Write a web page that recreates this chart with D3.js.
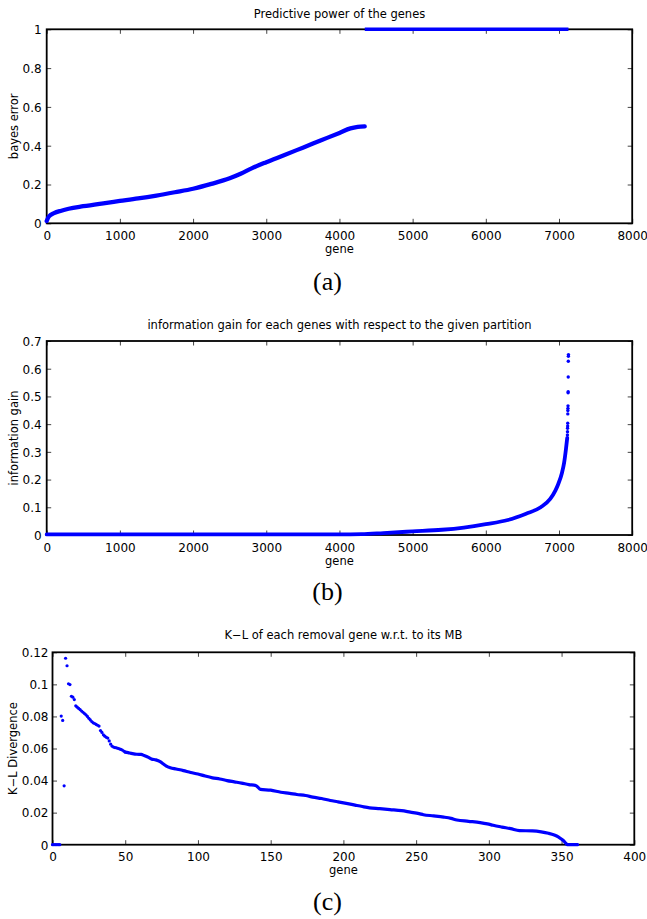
<!DOCTYPE html>
<html>
<head>
<meta charset="utf-8">
<script src="https://cdn.jsdelivr.net/npm/d3@7"></script>
<style>
  body { margin: 0; background: #fff; }
  text { font-family: "DejaVu Sans", sans-serif; fill: #000; }
  .caption { font-family: "Liberation Serif", "Times New Roman", serif; }
</style>
</head>
<body>
<svg id="fig" width="647" height="919"></svg>
<script>
// ---------- (a) Bayes error of each gene, sorted ----------
const bayesGenes  = [0, 30, 100, 200, 300, 500, 750, 1000, 1250, 1500, 1750, 2000, 2250, 2500, 2650, 2800, 3000, 3250, 3500, 3750, 4000, 4150, 4250, 4345];
const bayesErrors = [0.012, 0.035, 0.052, 0.065, 0.075, 0.088, 0.102, 0.115, 0.128, 0.143, 0.160, 0.178, 0.203, 0.232, 0.255, 0.283, 0.315, 0.352, 0.390, 0.428, 0.466, 0.489, 0.497, 0.500];
const uselessGenes  = [4346, 7129];
const uselessErrors = [1, 1];

// ---------- (b) information gain of each gene ----------
const gainGenes  = [0, 1000, 2000, 3000, 4000, 4300, 4600, 5000, 5400, 5700, 6000, 6300, 6550, 6750, 6880, 6950, 6990, 7040, 7070, 7095, 7112];
const gainValues = [0.002, 0.002, 0.002, 0.002, 0.002, 0.003, 0.007, 0.013, 0.019, 0.027, 0.039, 0.054, 0.077, 0.100, 0.130, 0.160, 0.184, 0.224, 0.261, 0.310, 0.350];
const gainTopGenes  = [7115, 7116, 7117, 7118, 7119, 7120, 7121, 7122, 7123, 7124, 7125, 7126, 7127, 7128, 7129];
const gainTopValues = [0.361, 0.373, 0.385, 0.393, 0.403, 0.437, 0.449, 0.457, 0.466, 0.513, 0.517, 0.570, 0.627, 0.645, 0.651];

// ---------- (c) K-L divergence of each removed gene w.r.t. its Markov blanket ----------
const klEarlyGenes  = d3.range(0, 51);
const klEarlyValues = [0, 0, 0, 0, 0, 0, 0.0802, 0.0775, 0.0367, 0.1163, 0.1116, 0.1004, 0.0999, 0.0926, 0.0920, 0.0905,
  0.0866, 0.0858, 0.0850, 0.0842, 0.0834, 0.0826, 0.0818, 0.0810, 0.0800, 0.0788, 0.0778, 0.0768, 0.0760, 0.0756,
  0.0750, 0.0745, 0.0740, 0.0712, 0.0700, 0.0685, 0.0677, 0.0670, 0.0665, 0.0647, 0.0627, 0.0614, 0.0609, 0.0606,
  0.0604, 0.0601, 0.0598, 0.0594, 0.0590, 0.0584, 0.0578];
const klGenes  = [50, 52, 55, 58, 61, 63, 66, 68, 71, 74, 76, 78, 81, 85, 90, 95, 100, 105, 110, 115, 120, 125, 130, 135, 140, 143,
  150, 157, 163, 168, 174, 179, 185, 191, 196, 202, 208, 213, 218, 225, 232, 240, 246, 252, 255, 262, 269, 274, 278, 286,
  294, 299, 303, 309, 315, 321, 330, 336, 341, 345, 348, 351, 353, 354, 361];
const klValues = [0.0578, 0.0574, 0.0568, 0.0564, 0.0563, 0.0556, 0.0545, 0.0535, 0.0529, 0.0518, 0.0505, 0.0492, 0.0480, 0.0472,
  0.0462, 0.0450, 0.0441, 0.0428, 0.0417, 0.0410, 0.0400, 0.0392, 0.0384, 0.0375, 0.0368, 0.0345, 0.0340, 0.0327, 0.0320,
  0.0313, 0.0307, 0.0297, 0.0288, 0.0276, 0.0268, 0.0258, 0.0247, 0.0238, 0.0230, 0.0225, 0.0219, 0.0212, 0.0203, 0.0194,
  0.0187, 0.0180, 0.0172, 0.0164, 0.0154, 0.0146, 0.0138, 0.0130, 0.0121, 0.0110, 0.0100, 0.0088, 0.0086, 0.0080, 0.0071,
  0.0060, 0.0047, 0.0028, 0.0008, 0, 0];

// ---------- tick labels ----------
const geneTicks7k  = [0, 1000, 2000, 3000, 4000, 5000, 6000, 7000, 8000];
const geneLabels7k = ["0", "1000", "2000", "3000", "4000", "5000", "6000", "7000", "8000"];
const errorTicks   = [0, 0.2, 0.4, 0.6, 0.8, 1];
const errorLabels  = ["0", "0.2", "0.4", "0.6", "0.8", "1"];
const gainTicks    = [0, 0.1, 0.2, 0.3, 0.4, 0.5, 0.6, 0.7];
const gainLabels   = ["0", "0.1", "0.2", "0.3", "0.4", "0.5", "0.6", "0.7"];
const geneTicks400  = [0, 50, 100, 150, 200, 250, 300, 350, 400];
const geneLabels400 = ["0", "50", "100", "150", "200", "250", "300", "350", "400"];
const klTicks  = [0, 0.02, 0.04, 0.06, 0.08, 0.1, 0.12];
const klLabels = ["0", "0.02", "0.04", "0.06", "0.08", "0.1", "0.12"];

const BLUE = "#0000ff";
const svg = d3.select("#fig");
svg.append("rect").attr("width", 647).attr("height", 919).attr("fill", "#fff");

function drawPanel(p) {
  const x = d3.scaleLinear().domain(p.xDomain).range([p.left, p.right]);
  const y = d3.scaleLinear().domain(p.yDomain).range([p.bottom, p.top]);
  const g = svg.append("g");
  const tickLen = 4.5;

  const styleAxis = sel => {
    sel.select(".domain").remove();
    sel.selectAll(".tick line").attr("stroke", "#444").attr("stroke-width", 1);
    sel.selectAll(".tick text").attr("font-size", 12).attr("fill", "#000")
      .attr("font-family", "DejaVu Sans, sans-serif");
  };

  g.append("g").attr("transform", `translate(0,${p.bottom})`)
    .call(d3.axisBottom(x).tickValues(p.xTicks).tickFormat((d, i) => p.xLabels[i])
      .tickSizeInner(-tickLen).tickSizeOuter(0).tickPadding(8))
    .call(styleAxis);
  g.append("g").attr("transform", `translate(0,${p.top})`)
    .call(d3.axisTop(x).tickValues(p.xTicks).tickFormat("").tickSizeInner(-tickLen).tickSizeOuter(0))
    .call(styleAxis);
  g.append("g").attr("transform", `translate(${p.left},0)`)
    .call(d3.axisLeft(y).tickValues(p.yTicks).tickFormat((d, i) => p.yLabels[i])
      .tickSizeInner(-tickLen).tickSizeOuter(0).tickPadding(p.yPad))
    .call(styleAxis)
    .selectAll(".tick text").attr("dy", "0.36em");
  g.append("g").attr("transform", `translate(${p.right},0)`)
    .call(d3.axisRight(y).tickValues(p.yTicks).tickFormat("").tickSizeInner(-tickLen).tickSizeOuter(0))
    .call(styleAxis);

  // box
  g.append("rect").attr("x", p.left).attr("y", p.top)
    .attr("width", p.right - p.left).attr("height", p.bottom - p.top)
    .attr("fill", "none").attr("stroke", "#000").attr("stroke-width", 1.8);

  // title and axis labels
  g.append("text").attr("x", (p.left + p.right) / 2).attr("y", p.titleY)
    .attr("text-anchor", "middle").attr("font-size", 11.5).text(p.title);
  g.append("text").attr("x", (p.left + p.right) / 2).attr("y", p.xLabelY)
    .attr("text-anchor", "middle").attr("font-size", 11.5).text("gene");
  g.append("text").attr("transform", `translate(${p.yLabelX},${(p.top + p.bottom) / 2}) rotate(-90)`)
    .attr("text-anchor", "middle").attr("font-size", 11.5).text(p.yLabel);
  g.append("text").attr("class", "caption").attr("x", 327.5).attr("y", p.captionY)
    .attr("text-anchor", "middle").attr("font-size", 26).text(p.caption);

  return { g, x, y };
}

const lineGen = (x, y) => d3.line().x(d => x(d[0])).y(d => y(d[1])).curve(d3.curveMonotoneX);

// ---------- panel (a) ----------
{
  const { g, x, y } = drawPanel({
    xDomain: [0, 8000], yDomain: [0, 1],
    left: 46.7, right: 632.2, top: 29.3, bottom: 223.3,
    xTicks: geneTicks7k, xLabels: geneLabels7k, yTicks: errorTicks, yLabels: errorLabels, yPad: 5,
    title: "Predictive power of the genes", titleY: 18, xLabelY: 253,
    yLabel: "bayes error", yLabelX: 17.5, caption: "(a)", captionY: 290
  });
  const line = lineGen(x, y);
  g.append("path").datum(d3.zip(bayesGenes, bayesErrors)).attr("d", line)
    .attr("fill", "none").attr("stroke", BLUE).attr("stroke-width", 4.3)
    .attr("stroke-linecap", "round").attr("stroke-linejoin", "round");
  g.append("path").datum(d3.zip(uselessGenes, uselessErrors)).attr("d", line)
    .attr("fill", "none").attr("stroke", BLUE).attr("stroke-width", 3.6);
}

// ---------- panel (b) ----------
{
  const { g, x, y } = drawPanel({
    xDomain: [0, 8000], yDomain: [0, 0.7],
    left: 46.7, right: 632.2, top: 341, bottom: 535,
    xTicks: geneTicks7k, xLabels: geneLabels7k, yTicks: gainTicks, yLabels: gainLabels, yPad: 5,
    title: "information gain for each genes with respect to the given partition", titleY: 329, xLabelY: 565,
    yLabel: "information gain", yLabelX: 17.5, caption: "(b)", captionY: 600
  });
  g.append("path").datum(d3.zip(gainGenes, gainValues)).attr("d", lineGen(x, y))
    .attr("fill", "none").attr("stroke", BLUE).attr("stroke-width", 3.8)
    .attr("stroke-linecap", "round").attr("stroke-linejoin", "round");
  g.selectAll("circle.top").data(d3.zip(gainTopGenes, gainTopValues)).join("circle")
    .attr("cx", d => x(d[0])).attr("cy", d => y(d[1])).attr("r", 1.7).attr("fill", BLUE);
}

// ---------- panel (c) ----------
{
  const { g, x, y } = drawPanel({
    xDomain: [0, 400], yDomain: [0, 0.12],
    left: 52.5, right: 634.3, top: 652.3, bottom: 844.7,
    xTicks: geneTicks400, xLabels: geneLabels400, yTicks: klTicks, yLabels: klLabels, yPad: 4,
    title: "K\u2212L of each removal gene w.r.t. to its MB", titleY: 639, xLabelY: 874,
    yLabel: "K\u2212L Divergence", yLabelX: 16.5, caption: "(c)", captionY: 910
  });
  g.append("path").datum(d3.zip(klGenes, klValues)).attr("d", lineGen(x, y))
    .attr("fill", "none").attr("stroke", BLUE).attr("stroke-width", 3.2)
    .attr("stroke-linecap", "round").attr("stroke-linejoin", "round");
  g.selectAll("circle.early").data(d3.zip(klEarlyGenes, klEarlyValues)).join("circle")
    .attr("cx", d => x(d[0])).attr("cy", d => y(d[1])).attr("r", 1.6).attr("fill", BLUE);
}
</script>
</body>
</html>
